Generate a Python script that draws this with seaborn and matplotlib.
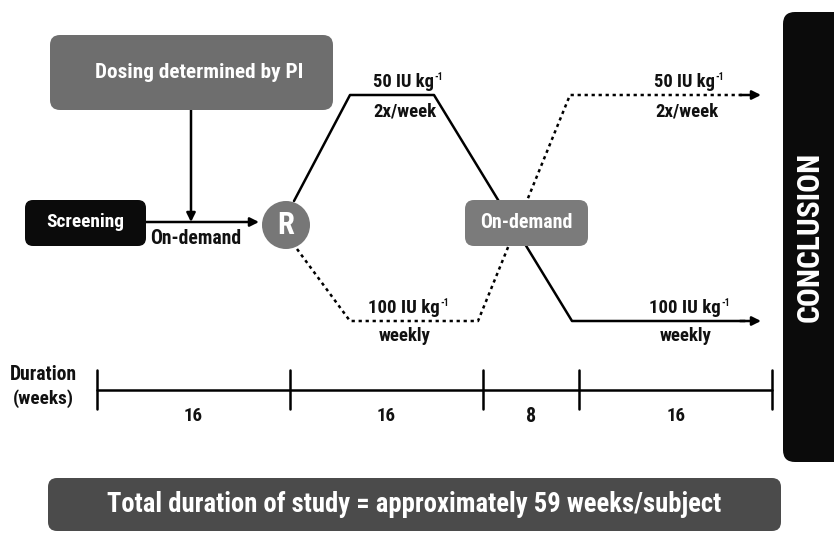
import matplotlib
matplotlib.use("Agg")
import matplotlib.pyplot as plt
from matplotlib.patches import FancyBboxPatch, Circle, FancyArrowPatch
from matplotlib import font_manager as fm
import numpy as np
import pandas as pd
import seaborn as sns

# ---- data ----
period_weeks = [16, 16, 8, 16]
period_labels = ["16", "16", "8", "16"]
total_label = "Total duration of study = approximately 59 weeks/subject"
arm_a_labels = ["50 IU kg", "2x/week"]
arm_b_labels = ["100 IU kg", "weekly"]
unit_sup = "-1"
box_texts = {"dosing": "Dosing determined by PI", "screen": "Screening",
             "ondemand": "On-demand", "R": "R", "end": "CONCLUSION"}
duration_title = ["Duration", "(weeks)"]

sns.set_theme(style="white")
plt.rcParams["font.family"] = ["Liberation Sans", "DejaVu Sans"]


def _is_bold(f):
    w = f.weight
    if isinstance(w, str):
        return w in ("bold", "heavy", "black", "extra bold", "demibold", "semibold")
    return w >= 600


def _is_cond(f):
    s = f.stretch
    if isinstance(s, str):
        return "condensed" in s or "narrow" in s
    return s < 500


def pick_font():
    fl = fm.fontManager.ttflist
    for name in ["Liberation Sans Narrow", "Roboto Condensed", "Open Sans Condensed",
                 "DejaVu Sans Condensed", "Noto Sans Condensed"]:
        for f in fl:
            if f.name == name and _is_bold(f) and f.style == "normal":
                return fm.FontProperties(fname=f.fname)
    for name in ["DejaVu Sans", "Noto Sans", "Roboto", "Open Sans", "Liberation Sans"]:
        for f in fl:
            if f.name == name and _is_bold(f) and _is_cond(f) and f.style == "normal":
                return fm.FontProperties(fname=f.fname)
    for f in fl:
        if f.name == "Liberation Sans" and _is_bold(f) and f.style == "normal":
            return fm.FontProperties(fname=f.fname)
    return fm.FontProperties(family="DejaVu Sans", weight="bold")


FP = pick_font()

W, H = 834, 533
fig = plt.figure(figsize=(W / 100, H / 100), dpi=100)
ax = fig.add_axes([0, 0, 1, 1])
ax.set_xlim(0, W)
ax.set_ylim(H, 0)
ax.axis("off")

LW = 1.8
fits = []


def txt(x, y, s, target_w, max_size, color="#111111", rot=0, ha="center",
        va="center", z=4):
    t = ax.text(x, y, s, fontproperties=FP, fontsize=12, color=color, ha=ha,
                va=va, rotation=rot, zorder=z)
    fits.append((t, target_w, max_size, rot))
    return t


def rbox(x0, y0, x1, y1, color, r=8):
    p = FancyBboxPatch((x0 + r, y0 + r), (x1 - x0) - 2 * r, (y1 - y0) - 2 * r,
                       boxstyle=f"round,pad={r}", fc=color, ec="none", zorder=3)
    ax.add_patch(p)


def arrow(x0, y0, x1, y1):
    a = FancyArrowPatch((x0, y0), (x1, y1), arrowstyle="-|>", mutation_scale=13,
                        lw=LW, color="black", zorder=2, shrinkA=0, shrinkB=0)
    ax.add_patch(a)


# Dosing box
rbox(50, 35, 333, 110, "#6e6e6e", r=10)
txt(199, 73, box_texts["dosing"], 208, 16, color="white")
arrow(191, 110, 191, 222)

# Screening
rbox(25, 200, 146, 246, "#0b0b0b", r=8)
txt(85, 222, box_texts["screen"], 78, 15, color="white")
arrow(146, 222, 259, 222)
txt(196, 238, "On-demand", 91, 15)

# R circle
ax.add_patch(Circle((286, 225), 24, fc="#777777", ec="none", zorder=3))
txt(286, 225, box_texts["R"], 17, 26, color="white")

# solid path (arm A -> arm B)
solid = pd.DataFrame({"x": [294, 350, 434, 572, 745], "y": [201, 95, 95, 321, 321]})
sns.lineplot(data=solid, x="x", y="y", sort=False, estimator=None, color="black",
             lw=LW, ax=ax, zorder=2)
arrow(740, 321, 761, 321)

# dotted path (arm B -> arm A)
dotted = pd.DataFrame({"x": [297, 350, 478, 570, 745], "y": [249, 321, 321, 95, 95]})
sns.lineplot(data=dotted, x="x", y="y", sort=False, estimator=None, color="black",
             lw=LW, ax=ax, zorder=2, linestyle=(0, (1.3, 1.5)))
arrow(740, 95, 761, 95)

# On-demand box
rbox(465, 200, 588, 246, "#7b7b7b", r=9)
txt(526, 223, box_texts["ondemand"], 92, 15, color="white")

LAB_MAX = 13.5


# arm labels (main text + superscript unit exponent)
def dose_label(x_left, base, s, width):
    t = txt(x_left, base, s, width, LAB_MAX, ha="left", va="baseline")
    ax.annotate(unit_sup, xy=(1, base), xycoords=(t, "data"), xytext=(0.5, 5.2),
                textcoords="offset points", fontproperties=FP, fontsize=7,
                color="#111111", ha="left", va="baseline", zorder=4)


dose_label(373, 87, arm_a_labels[0], 61)
txt(405, 117, arm_a_labels[1], 68, LAB_MAX, va="baseline")
dose_label(654, 87, arm_a_labels[0], 61)
txt(687, 117, arm_a_labels[1], 67, LAB_MAX, va="baseline")
dose_label(368, 313, arm_b_labels[0], 74)
txt(405, 341, arm_b_labels[1], 54, LAB_MAX, va="baseline")
dose_label(649, 313, arm_b_labels[0], 74)
txt(686, 341, arm_b_labels[1], 53, LAB_MAX, va="baseline")

# Conclusion box
rbox(783, 12, 860, 462, "#0b0b0b", r=12)
txt(810, 237, box_texts["end"], 170, 26, color="white", rot=90)

# Duration timeline
x_start, x_end = 97, 772
scale = (x_end - x_start) / sum(period_weeks)
edges = x_start + scale * np.concatenate([[0], np.cumsum(period_weeks)])
ty = 390
ax.plot([edges[0], edges[-1]], [ty, ty], color="black", lw=LW)
for e in edges:
    ax.plot([e, e], [370, 409], color="black", lw=LW)
for i, lab in enumerate(period_labels):
    txt((edges[i] + edges[i + 1]) / 2, 416, lab, 19 if len(lab) > 1 else 10, 17)
txt(43, 375, duration_title[0], 67, 17)
txt(43, 399, duration_title[1], 61, 17)

# Bottom bar
rbox(48, 478, 781, 531, "#4b4b4b", r=9)
txt(414, 505, total_label, 615, 24, color="white")

# fit text sizes to the reference widths
fig.canvas.draw()
rend = fig.canvas.get_renderer()
for t, tw, mx, rot in fits:
    bb = t.get_window_extent(rend)
    w = bb.height if rot else bb.width
    t.set_fontsize(min(mx, t.get_fontsize() * tw / max(w, 1)))

fig.savefig("out.png", dpi=100)
